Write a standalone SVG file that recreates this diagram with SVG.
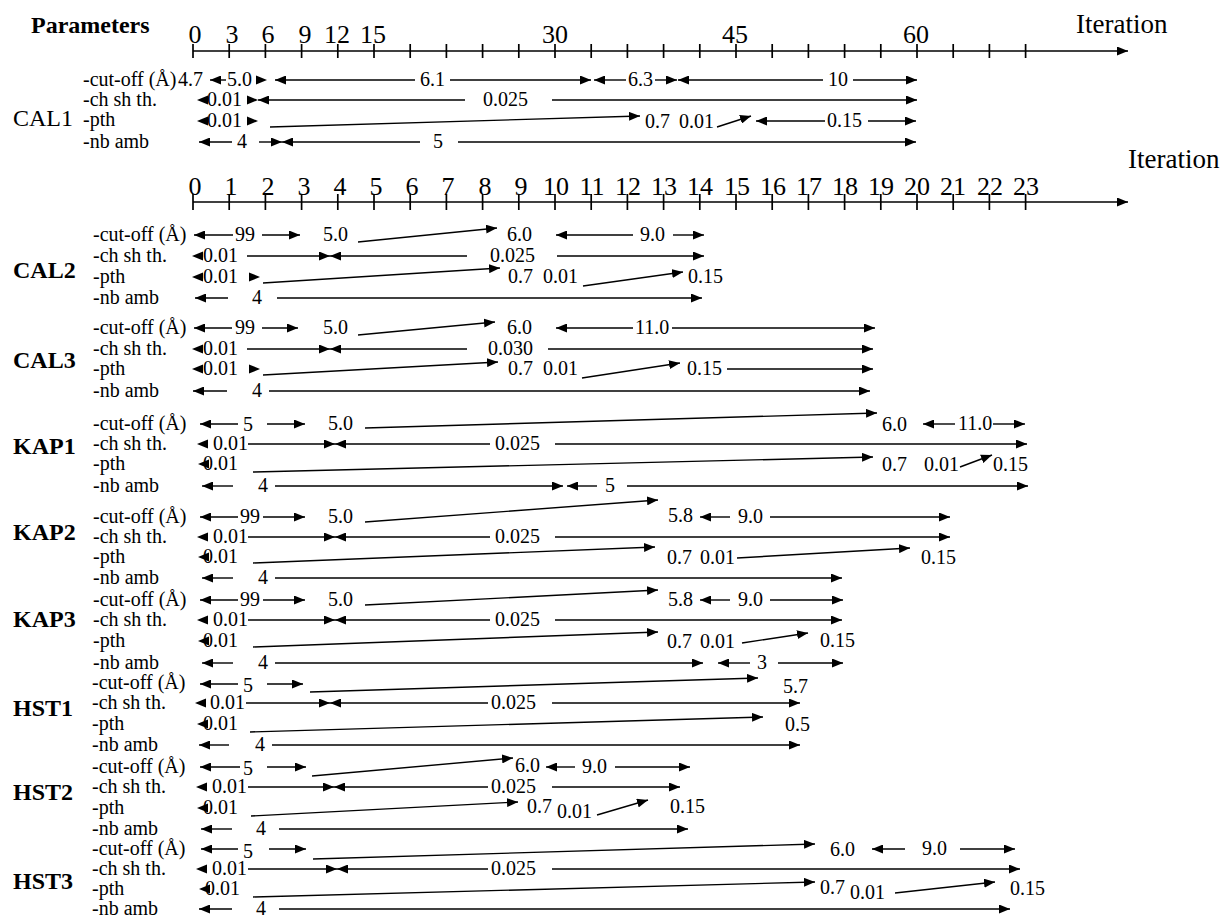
<svg xmlns="http://www.w3.org/2000/svg" xmlns:xlink="http://www.w3.org/1999/xlink" width="1224" height="917" viewBox="0 0 1224 917">
<defs>
<style>
text{font-family:"Liberation Serif","Times New Roman",serif;font-size:20px;fill:#000}
.hd{font-weight:bold;font-size:24px}
.grp{font-size:24px}
.gb{font-weight:bold;font-size:24px}
.ax{font-size:26px}
.it{font-size:27px}
line,polyline{stroke:#000;stroke-width:1.4;fill:none}
.axis line{stroke-width:1.7}
.e{marker-end:url(#a)}
.s{marker-start:url(#a)}
</style>
<marker id="a" viewBox="0 0 11 9" refX="11" refY="4.5" markerWidth="11" markerHeight="9" markerUnits="userSpaceOnUse" orient="auto-start-reverse"><path d="M0,0 L11,4.5 L0,9 Z"/></marker>
<path id="R" d="M0,0 L-11,-4.5 L-11,4.5 Z"/>
<path id="L" d="M0,0 L11,-4.5 L11,4.5 Z"/>
</defs>
<rect width="1224" height="917" fill="#fff"/>

<!-- upper iteration axis: steps of 3 -->
<g id="axis1" class="axis">
<text class="hd" x="31" y="33">Parameters</text>
<text class="it" x="1076" y="33">Iteration</text>
<line x1="193" y1="51" x2="1128" y2="51" class="e"/>
<g>
<line x1="193" y1="44" x2="193" y2="58"/><line x1="229.2" y1="44" x2="229.2" y2="58"/><line x1="265.4" y1="44" x2="265.4" y2="58"/><line x1="301.6" y1="44" x2="301.6" y2="58"/><line x1="337.8" y1="44" x2="337.8" y2="58"/><line x1="374" y1="44" x2="374" y2="58"/><line x1="410.2" y1="44" x2="410.2" y2="58"/><line x1="446.4" y1="44" x2="446.4" y2="58"/><line x1="482.6" y1="44" x2="482.6" y2="58"/><line x1="518.8" y1="44" x2="518.8" y2="58"/><line x1="555" y1="44" x2="555" y2="58"/><line x1="591.2" y1="44" x2="591.2" y2="58"/><line x1="627.4" y1="44" x2="627.4" y2="58"/><line x1="663.6" y1="44" x2="663.6" y2="58"/><line x1="699.8" y1="44" x2="699.8" y2="58"/><line x1="736" y1="44" x2="736" y2="58"/><line x1="772.2" y1="44" x2="772.2" y2="58"/><line x1="808.4" y1="44" x2="808.4" y2="58"/><line x1="844.6" y1="44" x2="844.6" y2="58"/><line x1="880.8" y1="44" x2="880.8" y2="58"/><line x1="917" y1="44" x2="917" y2="58"/><line x1="953.2" y1="44" x2="953.2" y2="58"/><line x1="989.4" y1="44" x2="989.4" y2="58"/><line x1="1025.6" y1="44" x2="1025.6" y2="58"/>
</g>
<g text-anchor="middle">
<text class="ax" x="195" y="43">0</text><text class="ax" x="232" y="43">3</text><text class="ax" x="268" y="43">6</text><text class="ax" x="305" y="43">9</text><text class="ax" x="337" y="43">12</text><text class="ax" x="373" y="43">15</text><text class="ax" x="555" y="43">30</text><text class="ax" x="735" y="43">45</text><text class="ax" x="916" y="43">60</text>
</g>
</g>

<!-- lower iteration axis: unit steps -->
<g id="axis2" class="axis">
<text class="it" x="1128" y="168">Iteration</text>
<line x1="193" y1="202" x2="1128" y2="202" class="e"/>
<g>
<line x1="193" y1="194" x2="193" y2="210"/><line x1="229.2" y1="194" x2="229.2" y2="210"/><line x1="265.4" y1="194" x2="265.4" y2="210"/><line x1="301.6" y1="194" x2="301.6" y2="210"/><line x1="337.8" y1="194" x2="337.8" y2="210"/><line x1="374" y1="194" x2="374" y2="210"/><line x1="410.2" y1="194" x2="410.2" y2="210"/><line x1="446.4" y1="194" x2="446.4" y2="210"/><line x1="482.6" y1="194" x2="482.6" y2="210"/><line x1="518.8" y1="194" x2="518.8" y2="210"/><line x1="555" y1="194" x2="555" y2="210"/><line x1="591.2" y1="194" x2="591.2" y2="210"/><line x1="627.4" y1="194" x2="627.4" y2="210"/><line x1="663.6" y1="194" x2="663.6" y2="210"/><line x1="699.8" y1="194" x2="699.8" y2="210"/><line x1="736" y1="194" x2="736" y2="210"/><line x1="772.2" y1="194" x2="772.2" y2="210"/><line x1="808.4" y1="194" x2="808.4" y2="210"/><line x1="844.6" y1="194" x2="844.6" y2="210"/><line x1="880.8" y1="194" x2="880.8" y2="210"/><line x1="917" y1="194" x2="917" y2="210"/><line x1="953.2" y1="194" x2="953.2" y2="210"/><line x1="989.4" y1="194" x2="989.4" y2="210"/><line x1="1025.6" y1="194" x2="1025.6" y2="210"/>
</g>
<g text-anchor="middle">
<text class="ax" x="195" y="195">0</text><text class="ax" x="231" y="195">1</text><text class="ax" x="268" y="195">2</text><text class="ax" x="304" y="195">3</text><text class="ax" x="340" y="195">4</text><text class="ax" x="376" y="195">5</text><text class="ax" x="412" y="195">6</text><text class="ax" x="448" y="195">7</text><text class="ax" x="485" y="195">8</text><text class="ax" x="521" y="195">9</text><text class="ax" x="556" y="195">10</text><text class="ax" x="592" y="195">11</text><text class="ax" x="628" y="195">12</text><text class="ax" x="664" y="195">13</text><text class="ax" x="700" y="195">14</text><text class="ax" x="737" y="195">15</text><text class="ax" x="773" y="195">16</text><text class="ax" x="809" y="195">17</text><text class="ax" x="845" y="195">18</text><text class="ax" x="881" y="195">19</text><text class="ax" x="917" y="195">20</text><text class="ax" x="953" y="195">21</text><text class="ax" x="990" y="195">22</text><text class="ax" x="1026" y="195">23</text>
</g>
</g>

<!-- CAL1 (upper scale) -->
<g id="cal1">
<text class="grp" x="13" y="126">CAL1</text>
<text x="83" y="86">-cut-off (Å)</text>
<text x="83" y="106">-ch sh th.</text>
<text x="83" y="126">-pth</text>
<text x="83" y="148">-nb amb</text>
<text x="178" y="86">4.7</text><text x="227" y="86">5.0</text><text x="420" y="86">6.1</text><text x="628" y="86">6.3</text><text x="828" y="86">10</text>
<text x="207" y="106">0.01</text><text x="483" y="106">0.025</text>
<text x="207" y="127">0.01</text><text x="645" y="128">0.7</text><text x="679" y="128">0.01</text><text x="827" y="127">0.15</text>
<text x="237" y="148">4</text><text x="433" y="148">5</text>
<g class="arrows">
<line x1="210" y1="80" x2="226" y2="80" class="s"/><use xlink:href="#R" x="267" y="80"/>
<line x1="275" y1="80" x2="415" y2="80" class="s"/><line x1="450" y1="80" x2="591" y2="80" class="e"/>
<line x1="594" y1="80" x2="626" y2="80" class="s"/><line x1="655" y1="80" x2="677" y2="80" class="e"/>
<line x1="678" y1="80" x2="823" y2="80" class="s"/><line x1="853" y1="80" x2="917" y2="80" class="e"/>
<use xlink:href="#L" x="197" y="100"/><use xlink:href="#R" x="258" y="100"/>
<line x1="258" y1="100" x2="465" y2="100" class="s"/><line x1="552" y1="100" x2="917" y2="100" class="e"/>
<use xlink:href="#L" x="197" y="121"/><use xlink:href="#R" x="258" y="121"/>
<line x1="270" y1="127" x2="640" y2="116" class="e"/>
<line x1="717" y1="127" x2="751" y2="116" class="e"/>
<line x1="756" y1="121" x2="825" y2="121" class="s"/><line x1="868" y1="121" x2="916" y2="121" class="e"/>
<line x1="199" y1="142" x2="232" y2="142" class="s"/><line x1="259" y1="142" x2="282" y2="142" class="e"/>
<line x1="282" y1="142" x2="420" y2="142" class="s"/><line x1="458" y1="142" x2="916" y2="142" class="e"/>
</g>
</g>

<!-- CAL2 -->
<g id="cal2">
<text class="gb" x="13" y="278">CAL2</text>
<text x="93" y="241">-cut-off (Å)</text><text x="93" y="262">-ch sh th.</text><text x="93" y="283">-pth</text><text x="93" y="304">-nb amb</text>
<text x="235" y="241">99</text><text x="323" y="241">5.0</text><text x="507" y="241">6.0</text><text x="640" y="241">9.0</text>
<text x="203" y="262">0.01</text><text x="490" y="262">0.025</text>
<text x="203" y="283">0.01</text><text x="508" y="283">0.7</text><text x="543" y="283">0.01</text><text x="688" y="283">0.15</text>
<text x="252" y="304">4</text>
<g class="arrows">
<line x1="194" y1="235" x2="233" y2="235" class="s"/><line x1="262" y1="235" x2="300" y2="235" class="e"/>
<line x1="358" y1="242" x2="497" y2="228" class="e"/>
<line x1="556" y1="235" x2="633" y2="235" class="s"/><line x1="673" y1="235" x2="704" y2="235" class="e"/>
<use xlink:href="#L" x="192" y="256"/>
<line x1="247" y1="256" x2="330" y2="256" class="e"/><line x1="330" y1="256" x2="467" y2="256" class="s"/><line x1="557" y1="256" x2="704" y2="256" class="e"/>
<use xlink:href="#L" x="192" y="277"/><use xlink:href="#R" x="260" y="277"/>
<line x1="263" y1="283" x2="500" y2="268" class="e"/>
<line x1="583" y1="286" x2="683" y2="272" class="e"/>
<line x1="195" y1="298" x2="228" y2="298" class="s"/><line x1="277" y1="298" x2="702" y2="298" class="e"/>
</g>
</g>

<!-- CAL3 -->
<g id="cal3">
<text class="gb" x="13" y="368">CAL3</text>
<text x="93" y="334">-cut-off (Å)</text><text x="93" y="355">-ch sh th.</text><text x="93" y="375">-pth</text><text x="93" y="397">-nb amb</text>
<text x="235" y="334">99</text><text x="323" y="334">5.0</text><text x="507" y="334">6.0</text><text x="635" y="334">11.0</text>
<text x="203" y="355">0.01</text><text x="488" y="355">0.030</text>
<text x="203" y="375">0.01</text><text x="508" y="375">0.7</text><text x="543" y="375">0.01</text><text x="687" y="375">0.15</text>
<text x="252" y="397">4</text>
<g class="arrows">
<line x1="194" y1="328" x2="232" y2="328" class="s"/><line x1="262" y1="328" x2="298" y2="328" class="e"/>
<line x1="358" y1="335" x2="495" y2="322" class="e"/>
<line x1="556" y1="328" x2="633" y2="328" class="s"/><line x1="672" y1="328" x2="875" y2="328" class="e"/>
<use xlink:href="#L" x="192" y="349"/>
<line x1="247" y1="349" x2="330" y2="349" class="e"/><line x1="330" y1="349" x2="467" y2="349" class="s"/><line x1="548" y1="349" x2="873" y2="349" class="e"/>
<use xlink:href="#L" x="192" y="369"/><use xlink:href="#R" x="260" y="369"/>
<line x1="263" y1="375" x2="498" y2="362" class="e"/>
<line x1="582" y1="378" x2="680" y2="363" class="e"/>
<line x1="727" y1="369" x2="873" y2="369" class="e"/>
<line x1="193" y1="391" x2="227" y2="391" class="s"/><line x1="269" y1="391" x2="870" y2="391" class="e"/>
</g>
</g>

<!-- KAP1 -->
<g id="kap1">
<text class="gb" x="13" y="454">KAP1</text>
<text x="93" y="430">-cut-off (Å)</text><text x="93" y="450">-ch sh th.</text><text x="93" y="470">-pth</text><text x="93" y="492">-nb amb</text>
<text x="243" y="431">5</text><text x="328" y="430">5.0</text><text x="882" y="431">6.0</text><text x="958" y="430">11.0</text>
<text x="213" y="450">0.01</text><text x="495" y="450">0.025</text>
<text x="203" y="470">0.01</text><text x="882" y="471">0.7</text><text x="924" y="471">0.01</text><text x="993" y="471">0.15</text>
<text x="258" y="492">4</text><text x="605" y="492">5</text>
<g class="arrows">
<line x1="200" y1="424" x2="238" y2="424" class="s"/><line x1="267" y1="424" x2="305" y2="424" class="e"/>
<line x1="365" y1="428" x2="877" y2="413" class="e"/>
<line x1="923" y1="424" x2="955" y2="424" class="s"/><line x1="993" y1="424" x2="1025" y2="424" class="e"/>
<use xlink:href="#L" x="197" y="444"/>
<line x1="248" y1="444" x2="335" y2="444" class="e"/><line x1="335" y1="444" x2="490" y2="444" class="s"/><line x1="555" y1="444" x2="1027" y2="444" class="e"/>
<use xlink:href="#L" x="198" y="464"/>
<line x1="253" y1="472" x2="873" y2="457" class="e"/>
<line x1="960" y1="467" x2="992" y2="455" class="e"/>
<line x1="202" y1="486" x2="233" y2="486" class="s"/><line x1="275" y1="486" x2="563" y2="486" class="e"/>
<line x1="567" y1="486" x2="597" y2="486" class="s"/><line x1="627" y1="486" x2="1028" y2="486" class="e"/>
</g>
</g>

<!-- KAP2 -->
<g id="kap2">
<text class="gb" x="13" y="540">KAP2</text>
<text x="93" y="523">-cut-off (Å)</text><text x="93" y="543">-ch sh th.</text><text x="93" y="563">-pth</text><text x="93" y="584">-nb amb</text>
<text x="240" y="523">99</text><text x="328" y="523">5.0</text><text x="668" y="522">5.8</text><text x="738" y="523">9.0</text>
<text x="213" y="543">0.01</text><text x="495" y="543">0.025</text>
<text x="203" y="563">0.01</text><text x="667" y="564">0.7</text><text x="700" y="564">0.01</text><text x="921" y="564">0.15</text>
<text x="258" y="584">4</text>
<g class="arrows">
<line x1="200" y1="517" x2="238" y2="517" class="s"/><line x1="263" y1="517" x2="305" y2="517" class="e"/>
<line x1="365" y1="522" x2="658" y2="500" class="e"/>
<line x1="700" y1="517" x2="730" y2="517" class="s"/><line x1="770" y1="517" x2="950" y2="517" class="e"/>
<use xlink:href="#L" x="197" y="537"/>
<line x1="248" y1="537" x2="335" y2="537" class="e"/><line x1="335" y1="537" x2="490" y2="537" class="s"/><line x1="555" y1="537" x2="950" y2="537" class="e"/>
<use xlink:href="#L" x="198" y="557"/>
<line x1="253" y1="563" x2="655" y2="547" class="e"/>
<line x1="737" y1="558" x2="910" y2="548" class="e"/>
<line x1="202" y1="578" x2="233" y2="578" class="s"/><line x1="275" y1="578" x2="842" y2="578" class="e"/>
</g>
</g>

<!-- KAP3 -->
<g id="kap3">
<text class="gb" x="13" y="627">KAP3</text>
<text x="93" y="606">-cut-off (Å)</text><text x="93" y="626">-ch sh th.</text><text x="93" y="647">-pth</text><text x="93" y="669">-nb amb</text>
<text x="240" y="606">99</text><text x="328" y="606">5.0</text><text x="668" y="606">5.8</text><text x="738" y="606">9.0</text>
<text x="213" y="626">0.01</text><text x="495" y="626">0.025</text>
<text x="203" y="647">0.01</text><text x="667" y="648">0.7</text><text x="700" y="648">0.01</text><text x="820" y="647">0.15</text>
<text x="258" y="669">4</text><text x="757" y="669">3</text>
<g class="arrows">
<line x1="200" y1="600" x2="238" y2="600" class="s"/><line x1="263" y1="600" x2="305" y2="600" class="e"/>
<line x1="365" y1="605" x2="658" y2="590" class="e"/>
<line x1="700" y1="600" x2="730" y2="600" class="s"/><line x1="770" y1="600" x2="843" y2="600" class="e"/>
<use xlink:href="#L" x="197" y="620"/>
<line x1="248" y1="620" x2="335" y2="620" class="e"/><line x1="335" y1="620" x2="490" y2="620" class="s"/><line x1="555" y1="620" x2="842" y2="620" class="e"/>
<use xlink:href="#L" x="198" y="641"/>
<line x1="253" y1="647" x2="658" y2="632" class="e"/>
<line x1="742" y1="643" x2="808" y2="633" class="e"/>
<line x1="202" y1="663" x2="233" y2="663" class="s"/><line x1="275" y1="663" x2="703" y2="663" class="e"/>
<line x1="718" y1="663" x2="750" y2="663" class="s"/><line x1="778" y1="663" x2="843" y2="663" class="e"/>
</g>
</g>

<!-- HST1 -->
<g id="hst1">
<text class="gb" x="13" y="716">HST1</text>
<text x="92" y="689">-cut-off (Å)</text><text x="92" y="709">-ch sh th.</text><text x="92" y="730">-pth</text><text x="92" y="751">-nb amb</text>
<text x="243" y="692">5</text><text x="783" y="693">5.7</text>
<text x="210" y="709">0.01</text><text x="491" y="709">0.025</text>
<text x="203" y="730">0.01</text><text x="785" y="731">0.5</text>
<text x="255" y="751">4</text>
<g class="arrows">
<line x1="200" y1="684" x2="238" y2="684" class="s"/><line x1="267" y1="684" x2="303" y2="684" class="e"/>
<line x1="310" y1="692" x2="758" y2="678" class="e"/>
<use xlink:href="#L" x="195" y="703"/>
<line x1="246" y1="703" x2="330" y2="703" class="e"/><line x1="330" y1="703" x2="488" y2="703" class="s"/><line x1="552" y1="703" x2="800" y2="703" class="e"/>
<use xlink:href="#L" x="197" y="724"/>
<line x1="250" y1="732" x2="763" y2="717" class="e"/>
<line x1="199" y1="745" x2="229" y2="745" class="s"/><line x1="272" y1="745" x2="800" y2="745" class="e"/>
</g>
</g>

<!-- HST2 -->
<g id="hst2">
<text class="gb" x="13" y="800">HST2</text>
<text x="92" y="773">-cut-off (Å)</text><text x="92" y="793">-ch sh th.</text><text x="92" y="814">-pth</text><text x="92" y="835">-nb amb</text>
<text x="243" y="775">5</text><text x="515" y="772">6.0</text><text x="582" y="773">9.0</text>
<text x="212" y="793">0.01</text><text x="491" y="793">0.025</text>
<text x="203" y="814">0.01</text><text x="527" y="813">0.7</text><text x="557" y="818">0.01</text><text x="670" y="813">0.15</text>
<text x="256" y="835">4</text>
<g class="arrows">
<line x1="200" y1="767" x2="240" y2="767" class="s"/><line x1="267" y1="767" x2="306" y2="767" class="e"/>
<line x1="312" y1="776" x2="513" y2="758" class="e"/>
<line x1="546" y1="767" x2="575" y2="767" class="s"/><line x1="615" y1="767" x2="690" y2="767" class="e"/>
<use xlink:href="#L" x="196" y="787"/>
<line x1="248" y1="787" x2="334" y2="787" class="e"/><line x1="334" y1="787" x2="488" y2="787" class="s"/><line x1="552" y1="787" x2="680" y2="787" class="e"/>
<use xlink:href="#L" x="197" y="808"/>
<line x1="251" y1="816" x2="518" y2="802" class="e"/>
<line x1="597" y1="815" x2="648" y2="800" class="e"/>
<line x1="201" y1="829" x2="232" y2="829" class="s"/><line x1="279" y1="829" x2="688" y2="829" class="e"/>
</g>
</g>

<!-- HST3 -->
<g id="hst3">
<text class="gb" x="13" y="889">HST3</text>
<text x="92" y="855">-cut-off (Å)</text><text x="92" y="875">-ch sh th.</text><text x="92" y="895">-pth</text><text x="92" y="915">-nb amb</text>
<text x="243" y="858">5</text><text x="830" y="856">6.0</text><text x="922" y="855">9.0</text>
<text x="212" y="875">0.01</text><text x="491" y="875">0.025</text>
<text x="205" y="895">0.01</text><text x="820" y="894">0.7</text><text x="850" y="899">0.01</text><text x="1010" y="895">0.15</text>
<text x="256" y="915">4</text>
<g class="arrows">
<line x1="201" y1="849" x2="238" y2="849" class="s"/><line x1="269" y1="849" x2="306" y2="849" class="e"/>
<line x1="313" y1="859" x2="815" y2="844" class="e"/>
<line x1="872" y1="849" x2="905" y2="849" class="s"/><line x1="960" y1="849" x2="1015" y2="849" class="e"/>
<use xlink:href="#L" x="196" y="869"/>
<line x1="248" y1="869" x2="337" y2="869" class="e"/><line x1="337" y1="869" x2="488" y2="869" class="s"/><line x1="552" y1="869" x2="1020" y2="869" class="e"/>
<use xlink:href="#L" x="199" y="889"/>
<line x1="253" y1="897" x2="815" y2="882" class="e"/>
<line x1="895" y1="893" x2="995" y2="882" class="e"/>
<line x1="199" y1="909" x2="232" y2="909" class="s"/><line x1="279" y1="909" x2="1010" y2="909" class="e"/>
</g>
</g>
</svg>
